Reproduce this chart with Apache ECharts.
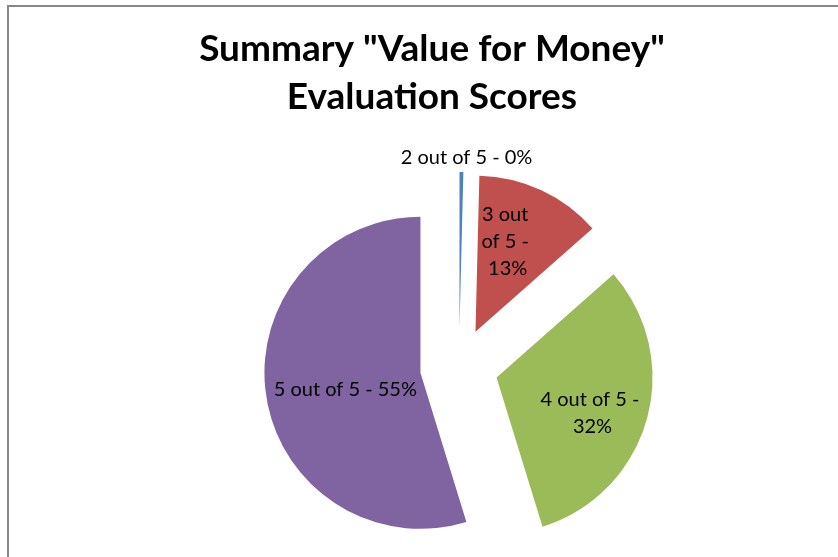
<!DOCTYPE html>
<html lang="en">
<head>
    <meta charset="UTF-8">
    <title>Value for Money</title>
    <style type="text/css">
        *{
            margin: 0px;
            padding: 0px;
        }
        body{
            background: #fff;
        }
        #chart{
            width: 838px;
            height: 557px;
        }
    </style>
</head>
<body>
<div id="chart"></div>
<script src="https://cdn.jsdelivr.net/npm/echarts@6/dist/echarts.min.js"></script>
<script type="text/javascript">
  // scores and their counts
  var categories = ['2 out of 5', '3 out of 5', '4 out of 5', '5 out of 5'];
  var counts = [1, 33, 80, 138];
  var colors = ['#4F81BD', '#C0504D', '#9BBB59', '#8064A2'];

  var myChart = echarts.init(document.getElementById('chart'));

  var pieData = [];
  for (var i = 0; i < categories.length; i++) {
    var item = {
      name: categories[i],
      value: counts[i],
      selected: true,
      itemStyle: { color: colors[i] }
    };
    if (i === 0) {
      item.label = { position: 'outside' };
      item.labelLine = { show: false, length: 6, length2: 0 };
    }
    if (i === 1) {
      item.label = { width: 62, overflow: 'break' };
    }
    if (i === 2) {
      item.label = { width: 118, overflow: 'break' };
    }
    pieData.push(item);
  }

  // small nudges so the labels sit where excel put them
  var nudge = [[0, 5], [-2, -17], [18, 14], [5, 5]];

  myChart.setOption({
    animation: false,
    title: {
      text: 'Summary "Value for Money"\nEvaluation Scores',
      left: 427,
      textAlign: 'center',
      top: 20,
      textStyle: {
        fontFamily: 'Lato',
        fontWeight: 'bold',
        fontSize: 37,
        lineHeight: 48,
        color: '#000'
      }
    },
    graphic: [
      { type: 'line', shape: { x1: 7, y1: 6, x2: 838, y2: 6 }, style: { stroke: '#878787', lineWidth: 2 } },
      { type: 'line', shape: { x1: 8, y1: 5, x2: 8, y2: 557 }, style: { stroke: '#878787', lineWidth: 2 } }
    ],
    series: [
      {
        type: 'pie',
        center: [459, 367],
        radius: 156,
        startAngle: 90,
        clockwise: true,
        selectedMode: 'multiple',
        selectedOffset: 39,
        percentPrecision: 0,
        emphasis: { disabled: true },
        select: { itemStyle: { borderWidth: 0 } },
        label: {
          show: true,
          position: 'inside',
          formatter: '{b} - {d}%',
          fontFamily: 'Lato',
          fontSize: 20,
          lineHeight: 27,
          color: '#000',
          align: 'center'
        },
        labelLayout: function (params) {
          var n = nudge[params.dataIndex];
          if (params.dataIndex === 0) {
            return { align: 'center', verticalAlign: 'bottom', dx: n[0], dy: n[1] };
          }
          return { dx: n[0], dy: n[1] };
        },
        data: pieData
      }
    ]
  });
</script>
</body>
</html>
